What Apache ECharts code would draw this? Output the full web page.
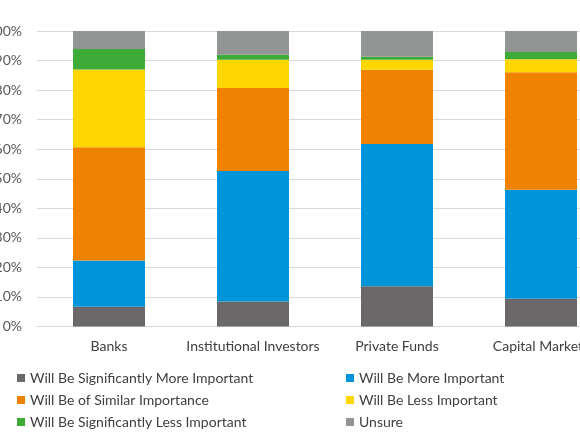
<!DOCTYPE html>
<html>
<head>
<meta charset="utf-8">
<script src="https://cdn.jsdelivr.net/npm/echarts@6/dist/echarts.min.js"></script>
<style>
  html, body { margin: 0; padding: 0; background: #fff; }
  #chart { width: 580px; height: 435px; }
</style>
</head>
<body>
<div id="chart"></div>
<script>
// categories and stacked shares (in %)
var categories = ['Banks', 'Institutional Investors', 'Private Funds', 'Capital Markets'];
var sigMore = [6.7, 8.5, 13.6, 9.4];
var more = [15.6, 44.1, 48.2, 36.9];
var similar = [38.4, 28.1, 25.1, 39.7];
var less = [26.3, 9.6, 3.4, 4.4];
var sigLess = [6.9, 1.7, 1.0, 2.5];
var unsure = [6.1, 8.0, 8.7, 7.1];

var seriesNames = [
    'Will Be Significantly More Important',
    'Will Be More Important',
    'Will Be of Similar Importance',
    'Will Be Less Important',
    'Will Be Significantly Less Important',
    'Unsure'
];
var seriesData = [sigMore, more, similar, less, sigLess, unsure];
var colors = ['#6a6868', '#0095d8', '#ef8200', '#ffd600', '#3dab38', '#939494'];

var fontName = 'Lato';

var myChart = echarts.init(document.getElementById('chart'));

var series = seriesNames.map(function (name, i) {
    return {
        name: name,
        type: 'bar',
        stack: 'total',
        barWidth: '50%',
        data: seriesData[i],
        itemStyle: { color: colors[i] }
    };
});

// one legend per entry: two columns, three rows
var legends = seriesNames.map(function (name, i) {
    return {
        left: i % 2 === 0 ? 12 : 341,
        top: 366 + Math.floor(i / 2) * 22,
        itemWidth: 8,
        itemHeight: 8,
        itemGap: 0,
        icon: 'rect',
        data: [name],
        textStyle: { fontFamily: fontName, fontSize: 14, color: '#404040' }
    };
});

var option = {
    animation: false,
    color: colors,
    legend: legends,
    grid: {
        left: 37,
        top: 31,
        width: 576,
        height: 295.5,
        outerBoundsMode: 'none',
        containLabel: false
    },
    xAxis: [{
        type: 'category',
        data: categories,
        axisTick: { show: false },
        axisLine: { lineStyle: { color: '#d9d9d9', width: 1 } },
        axisLabel: { interval: 0, fontFamily: fontName, fontSize: 14, color: '#404040', margin: 13 }
    }],
    yAxis: [{
        type: 'value',
        min: 0,
        max: 100,
        interval: 10,
        axisLine: { show: false },
        axisTick: { show: false },
        splitLine: { lineStyle: { color: '#d9d9d9', width: 1 } },
        axisLabel: { formatter: '{value}%', fontFamily: fontName, fontSize: 14, color: '#595959', margin: 15 }
    }],
    series: series
};

myChart.setOption(option);
</script>
</body>
</html>
